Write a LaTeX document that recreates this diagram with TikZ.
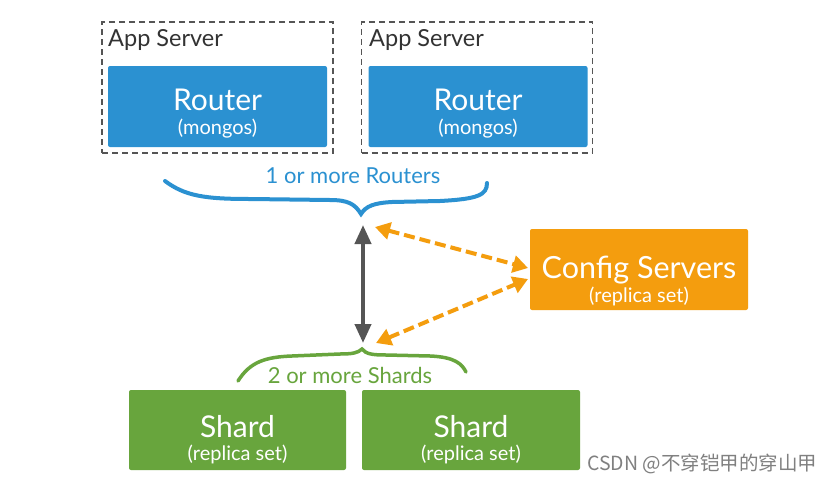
\documentclass[tikz,border=0pt]{standalone}
\usepackage{fontspec}
\setmainfont{Lato}
\newfontfamily\cjk{Noto Sans CJK SC}
\usetikzlibrary{arrows.meta}
\definecolor{rblue}{HTML}{2B91D1}
\definecolor{corange}{HTML}{F49D0E}
\definecolor{sgreen}{HTML}{68A53D}
\definecolor{agray}{HTML}{555555}
\definecolor{dgray}{HTML}{555555}
\definecolor{tgray}{HTML}{333333}
\begin{document}
\begin{tikzpicture}[x=1pt,y=-1pt,
  box/.style={rounded corners=2pt, inner sep=0pt},
  bigt/.style={anchor=base, text=white, inner sep=0pt, font=\fontsize{30}{32}\selectfont},
  smallt/.style={anchor=base, text=white, inner sep=0pt, font=\fontsize{20}{22}\selectfont},
  appbox/.style={draw=dgray, dash pattern=on 6pt off 4pt, line width=1.9pt, minimum width=231pt, minimum height=131pt, inner sep=0pt},
  applabel/.style={anchor=base west, text=tgray, inner sep=0pt, font=\fontsize{23.5}{26}\selectfont},
  brace/.style={line width=4pt, line cap=round},
  obar/.style={corange, line width=4pt, dash pattern=on 11pt off 5pt, {Triangle[width=17pt,length=15pt]}-{Triangle[width=17pt,length=15pt]}}
]
\useasboundingbox (0,0) rectangle (830,482);
\fill[white] (0,0) rectangle (830,482);

% App servers
\node[appbox] (a1) at (217.5,87.5) {};
\node[appbox] (a2) at (477,87.5) {};
\node[applabel] (l1) at (108,46) {App Server};
\node[applabel] (l2) at (369,46) {App Server};

% Routers
\node[box, fill=rblue, minimum width=219pt, minimum height=81pt] (r1) at (217.5,106.5) {};
\node[box, fill=rblue, minimum width=219pt, minimum height=81pt] (r2) at (478,106.5) {};
\node[bigt] (r1t) at (217.5,110) {Router};
\node[smallt] (r1s) at (217.5,134) {(mongos)};
\node[bigt] (r2t) at (478,110) {Router};
\node[smallt] (r2s) at (478,134) {(mongos)};

% Blue brace
\coordinate (rtip) at (361,214);
\draw[brace, rblue] (165,181) .. controls (185,196) and (205,199) .. (250,199)
  -- (330,200) .. controls (348,200) and (355,204) .. (rtip)
  .. controls (366,206) and (374,203) .. (392,202) -- (440,201)
  .. controls (478,199) and (487,195) .. (487,183);
\node[anchor=base, inner sep=0pt, text=rblue, font=\fontsize{22}{24}\selectfont] (rl) at (353,183) {1 or more Routers};

% Config servers
\node[box, fill=corange, minimum width=218pt, minimum height=81pt] (cfg) at (639,269.5) {};
\node[bigt, font=\fontsize{30.5}{32}\selectfont] (cfgt) at (639,278) {Config Servers};
\node[smallt] (cfgs) at (639,302) {(replica set)};

% Green brace
\coordinate (stip) at (362,349);
\draw[brace, sgreen, line width=3.5pt] (238,381) .. controls (250,362) and (265,357) .. (292,356)
  -- (340,354) .. controls (352,354) and (358,353) .. (stip)
  .. controls (366,354) and (372,355) .. (386,355) -- (430,356)
  .. controls (455,357) and (462,364) .. (466,372);
\node[anchor=base, inner sep=0pt, text=sgreen, font=\fontsize{22}{24}\selectfont] (sl) at (350,383) {2 or more Shards};

% Shards
\node[box, fill=sgreen, minimum width=217pt, minimum height=80pt] (s1) at (237.5,430) {};
\node[box, fill=sgreen, minimum width=218pt, minimum height=80pt] (s2) at (471,430) {};
\node[bigt] (s1t) at (237.5,437) {Shard};
\node[smallt] (s1s) at (237.5,460) {(replica set)};
\node[bigt] (s2t) at (471,437) {Shard};
\node[smallt] (s2s) at (471,460) {(replica set)};

% Arrows
\coordinate (gtop) at (363,225);
\coordinate (gbot) at (363,343);
\draw[agray, line width=4pt, {Triangle[width=16pt,length=19pt]}-{Triangle[width=16pt,length=19pt]}] (gtop) -- (gbot);
\coordinate (o1a) at (375,227);
\coordinate (o1b) at (528,268);
\coordinate (o2a) at (376,343);
\coordinate (o2b) at (528,279);
\draw[obar] (o1a) -- (o1b);
\draw[obar] (o2a) -- (o2b);

% Watermark
\node[anchor=base west, text=gray, font=\cjk\fontsize{19.5}{21}\selectfont, inner sep=0pt] (wm) at (587,470) {CSDN @不穿铠甲的穿山甲};
\end{tikzpicture}
\end{document}
